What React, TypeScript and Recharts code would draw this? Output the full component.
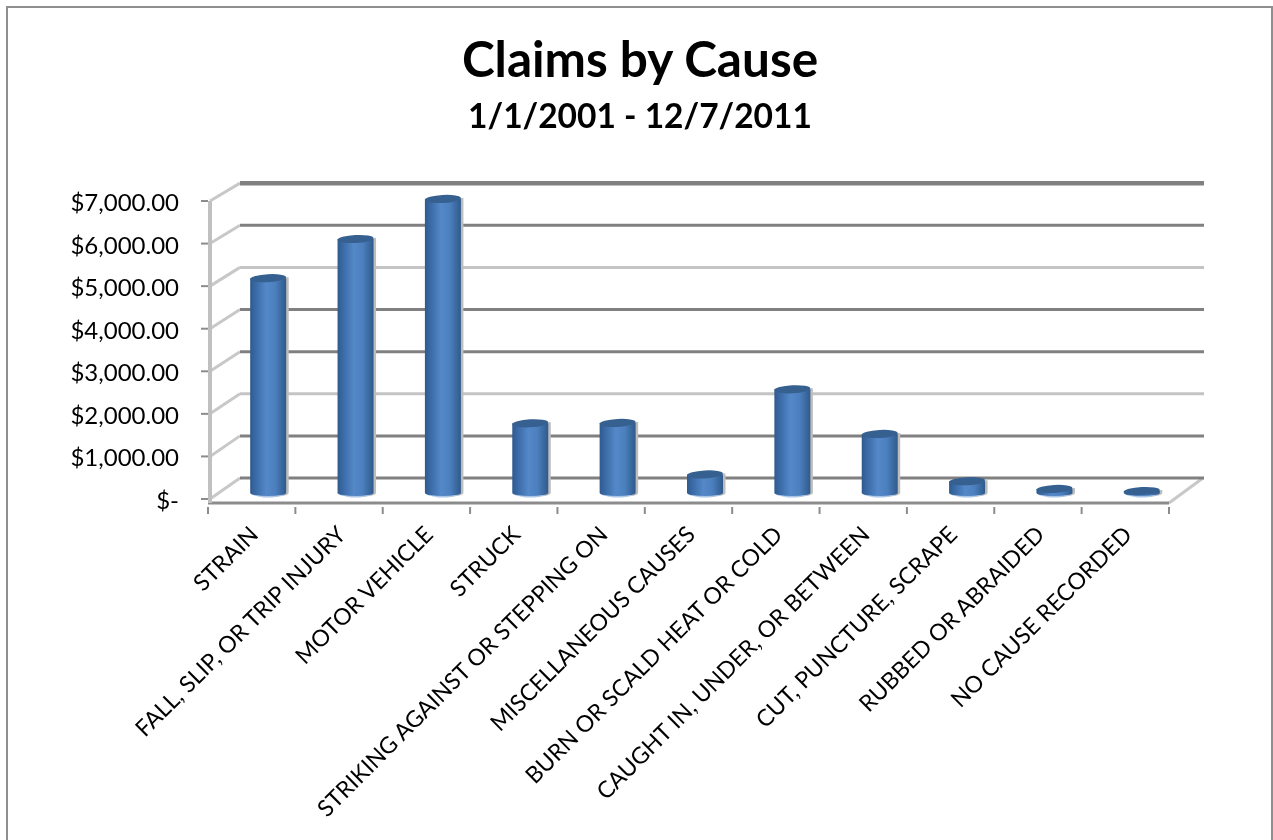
import React from "react";
import { BarChart, Bar, XAxis, YAxis, CartesianGrid } from "recharts";

const categories = [
  "STRAIN",
  "FALL, SLIP, OR TRIP INJURY",
  "MOTOR VEHICLE",
  "STRUCK",
  "STRIKING AGAINST OR STEPPING ON",
  "MISCELLANEOUS CAUSES",
  "BURN OR SCALD HEAT OR COLD",
  "CAUGHT IN, UNDER, OR BETWEEN",
  "CUT, PUNCTURE, SCRAPE",
  "RUBBED OR ABRAIDED",
  "NO CAUSE RECORDED",
];
const claimValues = [5070, 5990, 6930, 1660, 1670, 460, 2460, 1410, 300, 120, 70];
const yTicks = [0, 1000, 2000, 3000, 4000, 5000, 6000, 7000];
const yTickLabels = ["$-", "$1,000.00", "$2,000.00", "$3,000.00", "$4,000.00", "$5,000.00", "$6,000.00", "$7,000.00"];
const titleText = "Claims by Cause";
const subtitleText = "1/1/2001 - 12/7/2011";

const data = categories.map((name, i) => ({ name, value: claimValues[i] }));
const FONT = "Lato, 'Open Sans', sans-serif";
const DEPTH_X = 32;
const AXIS_GREY = "#8c8c8c";

function Cylinder(props: any) {
  const { x, y, width, height } = props;
  const cx = x + width / 2 + 16.5;
  const rx = 18;
  const left = cx - rx;
  const right = cx + rx;
  const ry = 5;
  const bottom = y + height - 5;
  const top = y - 5;
  const body = `M${left},${top} L${left},${bottom} A${rx},${ry - 1} 0 0 0 ${right},${bottom} L${right},${top} Z`;
  return (
    <g>
      <path d={body} transform="translate(2.5,-1)" fill="#bdbdbd" />
      <ellipse cx={cx} cy={bottom} rx={rx - 2} ry={ry - 2} fill="#a9c6ea" />
      <path d={`M${left},${top} L${left},${bottom - 1} A${rx},${ry - 2} 0 0 0 ${right},${bottom - 1} L${right},${top} Z`} fill="url(#cyl)" />
      <path d={`M${cx - 13},${bottom + 1.5} Q${cx},${bottom + 4.5} ${cx + 12},${bottom + 1.5} L${cx + 8},${bottom + 3} Q${cx},${bottom + 4} ${cx - 8},${bottom + 3} Z`} fill="#a9c6ea" />
      <ellipse cx={cx} cy={top} rx={rx} ry={ry - 1} transform={`rotate(-3 ${cx} ${top})`} fill="#36608f" />
    </g>
  );
}

function BackWallLine(props: any) {
  const { x1, y1, x2, index } = props;
  if (index >= yTicks.length) return null;
  const back = y1 - 21 + index * 0.45;
  const light = [2, 5].includes(index);
  const isTop = index === yTicks.length - 1;
  const stroke = light ? "#c4c4c4" : "#808080";
  return (
    <g>
      <line x1={x1 + 2} y1={y1} x2={x1 + DEPTH_X} y2={back} stroke="#c8c8c8" strokeWidth={3} />
      {index === 0 && (
        <line x1={x2} y1={y1 + 4} x2={x2 + DEPTH_X + 2} y2={back} stroke="#c8c8c8" strokeWidth={3} />
      )}
      <line x1={x1 + DEPTH_X} y1={back} x2={x2 + DEPTH_X + 3} y2={back} stroke={stroke} strokeWidth={isTop ? 4.5 : 3} />
    </g>
  );
}

function CategoryTick(props: any) {
  const { x, y, payload, index, width } = props;
  const half = width / categories.length / 2;
  const last = index === categories.length - 1;
  const lx = x + 8;
  const ly = y + 26;
  return (
    <g>
      <line x1={x - half} y1={y - 3} x2={x - half} y2={y + 4} stroke={AXIS_GREY} strokeWidth={2} />
      {last && <line x1={x + half} y1={y - 3} x2={x + half} y2={y + 4} stroke={AXIS_GREY} strokeWidth={2} />}
      <text
        x={lx}
        y={ly}
        textAnchor="end"
        transform={`rotate(-45 ${lx} ${ly})`}
        fontFamily={FONT}
        fontSize={23}
        fill="#000"
      >
        {payload.value}
      </text>
    </g>
  );
}

function ValueTick(props: any) {
  const { x, y, index } = props;
  return (
    <text x={x} y={y + 10} textAnchor="end" fontFamily={FONT} fontSize={24} fill="#000">
      {yTickLabels[index]}
    </text>
  );
}

export default function App() {
  return (
    <div style={{ position: "absolute", left: 0, top: 0, width: 1273, height: 840, background: "#fff", overflow: "hidden" }}>
      <div style={{ position: "absolute", left: 6, top: 6, width: 1263, height: 840, border: "2px solid #8f8f8f" }} />
      <div style={{ position: "absolute", left: 0, top: 0, filter: "blur(0.5px)" }}>
        <BarChart
          width={1273}
          height={840}
          data={data}
          margin={{ top: 201, right: 104, bottom: 0, left: 0 }}
          barCategoryGap="58%"
        >
          <defs>
            <linearGradient id="cyl" x1="0" y1="0" x2="1" y2="0">
              <stop offset="0%" stopColor="#2f5a8c" />
              <stop offset="15%" stopColor="#3a6aa6" />
              <stop offset="45%" stopColor="#5488c8" />
              <stop offset="70%" stopColor="#4c7fbd" />
              <stop offset="100%" stopColor="#2f5a8c" />
            </linearGradient>
          </defs>
          <text x={640} y={77} textAnchor="middle" fontFamily={FONT} fontWeight={700} fontSize={49.5} fill="#000">
            {titleText}
          </text>
          <text x={640} y={128} textAnchor="middle" fontFamily={FONT} fontWeight={700} fontSize={33.5} fill="#000">
            {subtitleText}
          </text>
          <CartesianGrid vertical={false} horizontal={(p: any) => <BackWallLine {...p} />} />
          <XAxis
            dataKey="name"
            interval={0}
            height={337}
            axisLine={{ stroke: AXIS_GREY, strokeWidth: 3 }}
            tickLine={false}
            tickSize={5}
            tick={<CategoryTick />}
          />
          <YAxis
            domain={[0, 7000]}
            ticks={yTicks}
            width={208}
            padding={{ top: 0, bottom: 4 }}
            axisLine={{ stroke: "#c0c0c0", strokeWidth: 4, transform: "translate(2,0)" }}
            tickLine={{ stroke: AXIS_GREY, strokeWidth: 2 }}
            tickSize={7}
            tickMargin={22}
            tick={<ValueTick />}
          />
          <Bar dataKey="value" shape={<Cylinder />} isAnimationActive={false} />
        </BarChart>
      </div>
    </div>
  );
}
